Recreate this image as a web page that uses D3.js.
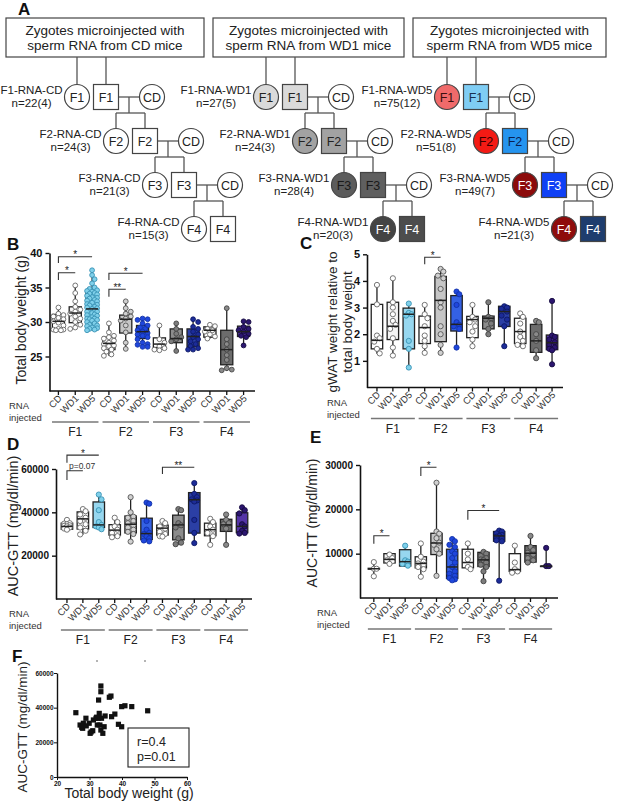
<!DOCTYPE html>
<html>
<head>
<meta charset="utf-8">
<script src="https://cdn.jsdelivr.net/npm/d3@7"></script>
<style>
body { margin: 0; background: #fff; }
text { font-family: "Liberation Sans", Arial, sans-serif; }
</style>
</head>
<body>
<svg width="617" height="806"></svg>
<script>
// ---------- data ----------
const diets = ['CD', 'WD1', 'WD5'];
const gens = ['F1', 'F2', 'F3', 'F4'];
const catLabels = gens.flatMap(() => diets);
const nCounts = [
    ['22(4)', '24(3)', '21(3)', '15(3)'],
    ['27(5)', '24(3)', '28(4)', '20(3)'],
    ['75(12)', '51(8)', '49(7)', '21(3)']
];

// box stats: [min, q1, median, q3, max] for F1 CD, F1 WD1, F1 WD5, F2 CD ...
const bodyWeightBox = [
    [28.8, 28.9, 30.1, 31.1, 32.1], [29.0, 29.9, 31.3, 32.2, 35.4], [28.8, 30.3, 31.9, 34.6, 37.5],
    [25.1, 26.0, 26.9, 27.8, 29.8], [26.0, 28.4, 30.4, 31.0, 33.1], [26.3, 27.6, 28.6, 29.5, 30.6],
    [25.8, 26.3, 26.8, 27.7, 29.6], [25.7, 27.0, 27.6, 29.0, 29.8], [25.9, 26.4, 27.9, 29.0, 30.5],
    [27.6, 27.8, 28.8, 29.3, 29.7], [22.9, 23.8, 26.0, 28.8, 32.0], [26.5, 27.9, 28.6, 29.4, 30.1]
];
const bodyWeightPts = [
    [32.1, 31.2, 31.0, 30.6, 30.4, 30.1, 29.9, 29.5, 29.0, 28.9, 28.9, 28.8, 28.8, 30.8],
    [35.3, 34.2, 33.0, 32.2, 31.8, 31.5, 31.2, 30.8, 30.5, 30.0, 29.6, 29.2, 29.0],
    [37.5, 36.8, 36.2, 35.6, 35.0, 34.8, 34.6, 34.4, 34.2, 34.0, 33.8, 33.6, 33.4, 33.2, 33.0, 32.8, 32.6,
     32.4, 32.2, 32.0, 31.9, 31.7, 31.5, 31.3, 31.1, 30.9, 30.7, 30.5, 30.3, 30.2, 30.0, 29.8, 29.6, 29.4,
     29.2, 29.0, 28.9, 28.8, 34.5, 33.5, 32.5, 31.5, 30.5, 29.5, 31.0, 32.1, 33.1, 34.1, 30.4, 29.1],
    [29.8, 28.5, 28.0, 27.6, 27.3, 27.0, 26.8, 26.5, 26.2, 26.0, 25.7, 25.3, 25.1, 27.8, 26.6],
    [33.0, 32.0, 31.2, 30.8, 30.5, 30.2, 29.5, 28.5, 27.0, 26.1, 31.5],
    [30.5, 30.3, 29.8, 29.5, 29.2, 29.0, 28.8, 28.6, 28.4, 28.0, 27.8, 27.5, 27.0, 26.7, 26.4, 26.4, 26.8, 30.4, 28.2],
    [29.5, 27.5, 27.0, 26.5, 26.2, 26.0, 25.9],
    [29.8, 29.0, 28.3, 27.8, 27.5, 27.2, 25.8],
    [30.4, 30.0, 29.3, 29.0, 28.6, 28.2, 27.8, 27.5, 27.2, 26.8, 26.5, 26.2, 26.0, 26.0],
    [29.6, 29.4, 29.0, 28.6, 28.2, 27.9, 27.6, 28.8],
    [32.0, 27.5, 26.8, 26.0, 25.2, 24.5, 23.3, 23.0, 23.1],
    [30.1, 30.0, 29.3, 29.0, 28.8, 28.6, 28.3, 28.0, 27.8, 26.6]
];

const gwatBox = [
    [1.27, 1.45, 1.77, 3.12, 3.85], [1.2, 1.8, 2.3, 3.2, 4.1], [0.73, 1.45, 2.75, 2.98, 3.17],
    [1.3, 1.65, 2.25, 2.68, 3.13], [1.27, 1.72, 3.27, 4.17, 4.47], [1.5, 2.12, 2.37, 3.45, 3.6],
    [1.53, 1.87, 2.55, 2.67, 3.12], [1.98, 2.2, 2.6, 2.68, 3.2], [1.52, 2.29, 2.85, 3.05, 3.08],
    [1.52, 1.65, 2.1, 2.6, 2.8], [1.08, 1.32, 1.75, 2.37, 2.52], [0.87, 1.42, 1.68, 1.97, 3.25]
];
const gwatPts = [
    [3.85, 3.12, 1.95, 1.85, 1.72, 1.45, 1.28],
    [4.1, 3.2, 3.0, 2.75, 2.5, 2.35, 2.2, 1.85, 1.5, 1.2],
    [3.15, 2.8, 2.75, 2.7, 1.75, 1.45, 0.75],
    [3.1, 2.75, 2.6, 2.3, 1.95, 1.75, 1.55, 1.3],
    [4.45, 4.35, 4.2, 4.1, 3.7, 3.2, 3.0, 2.3, 2.0, 1.6, 1.3],
    [3.6, 3.5, 3.1, 2.45, 2.35, 2.3, 2.2, 1.5],
    [3.1, 2.65, 2.55, 2.45, 2.3, 2.1, 1.8, 1.55],
    [3.2, 2.65, 2.6, 2.55, 2.4, 2.2, 2.0],
    [3.05, 3.0, 2.95, 2.85, 2.7, 2.55, 2.3, 1.55],
    [2.78, 2.65, 2.4, 2.1, 1.9, 1.75, 1.6, 1.55],
    [2.5, 2.45, 2.0, 1.75, 1.4, 1.1],
    [3.25, 1.95, 1.9, 1.8, 1.7, 1.6, 1.5, 1.45, 1.4, 0.87]
];

const gttBox = [
    [31800, 32200, 33500, 35000, 36800], [29600, 32300, 37000, 40200, 41700], [32000, 33000, 34200, 44800, 48300],
    [28500, 29500, 31800, 34300, 37500], [26500, 30500, 34500, 38300, 47000], [26600, 27400, 30200, 37300, 44800],
    [28600, 29500, 32700, 34100, 36300], [25000, 27300, 34200, 38700, 41800], [25800, 30400, 45800, 49100, 53600],
    [24900, 29200, 32000, 35000, 37400], [25000, 31200, 34200, 36800, 39200], [30200, 30600, 33500, 39800, 42300]
];
const gttPts = [
    [36500, 35000, 34500, 34000, 33500, 33000, 32500, 32000, 33800, 34800],
    [41500, 40500, 39000, 37500, 36000, 34500, 33000, 31500, 29800],
    [48200, 46000, 41000, 35500, 34200, 33500, 33000, 32200],
    [37500, 35500, 33500, 32000, 30500, 29000, 28500],
    [47000, 40000, 38000, 37500, 36000, 35000, 34000, 33000, 32000, 31000, 30000, 26500],
    [44500, 44000, 36000, 32000, 30500, 30000, 29000, 28000, 27000, 26600],
    [36000, 35000, 33500, 32500, 31000, 30000, 29000, 28800],
    [41500, 41000, 35000, 34000, 33000, 28000, 26000, 25300],
    [53500, 48500, 47000, 46000, 45500, 45000, 36500, 30500, 25800],
    [37000, 35500, 33500, 32000, 30500, 29000, 25000],
    [39000, 36500, 35000, 34500, 32500, 25000],
    [42300, 41000, 39500, 34500, 33500, 31500, 30500, 30200]
];

const ittBox = [
    [4900, 6500, 6600, 6700, 8100], [7600, 7900, 8700, 10000, 10300], [7200, 7200, 8200, 10900, 11900],
    [4800, 6800, 7800, 9300, 12300], [5000, 9800, 12400, 14600, 26000], [4000, 4400, 7000, 11000, 13300],
    [6500, 6800, 8000, 11000, 12300], [3800, 7100, 8600, 10300, 10500], [3900, 12800, 14000, 15000, 15300],
    [5700, 6000, 6400, 10000, 11900], [7900, 8100, 10100, 11800, 14100], [7100, 7200, 7200, 7200, 11300]
];
const ittPts = [
    [8100, 6600, 6600, 4900],
    [9800, 9000, 8500, 8300, 7700],
    [11800, 8500, 8200, 7700, 7300],
    [12300, 9300, 8200, 7800, 7500, 7000, 6500, 4800],
    [26000, 15000, 14500, 13500, 12500, 12000, 11000, 10000, 5000],
    [13300, 12800, 12000, 11500, 10500, 10000, 9000, 8000, 7000, 6000, 5500, 5000, 4500, 4200, 4000],
    [12300, 10000, 8700, 7000, 6500],
    [10400, 10000, 9500, 9000, 8700, 8500, 8000, 7500, 7000, 6000, 3800],
    [15200, 15000, 14600, 14200, 14000, 13800, 13500, 13000, 12800, 3900],
    [11800, 8000, 6500, 6000, 5700],
    [14000, 11500, 10800, 10200, 9800, 9000, 8500, 8000],
    [11300, 7200, 7200]
];

// significance brackets: [from category, to category, line value, leg end value, label]
const bodyWeightSig = [[0, 2, 39.46, 38.55, '*'], [0, 1, 37.14, 36.09, '*'], [3, 5, 37.06, 36.09, '*'], [3, 4, 34.74, 33.67, '**']];
const gwatSig = [[3, 4, 4.89, 4.63, '*']];
const gttSig = [[0, 2, 66400, 62900, '*'], [0, 1, 59200, 54900, 'p=0.07'], [6, 8, 60800, 57700, '**']];
const ittSig = [[0, 1, 14050, 12250, '*'], [3, 4, 29480, 27530, '*'], [6, 8, 19730, 17640, '*']];

// panel F scatter
const scatterWeight = [25.8, 27.1, 27.6, 28.1, 28.9, 27.9, 29.9, 30.2, 31.0, 31.2, 32.0, 32.4, 32.7, 33.0, 32.8, 33.5,
    33.5, 33.2, 33.7, 33.5, 34.1, 34.5, 34.8, 36.1, 36.6, 36.8, 37.8, 38.9, 39.9, 39.9, 40.9, 43.0, 47.9, 30.5, 32.2, 29.0];
const scatterGtt = [37100, 30000, 28700, 31000, 33900, 28100, 31000, 25200, 26700, 32900, 33900, 30000, 33900, 36700, 44400, 52500,
    49200, 30000, 33900, 27100, 25200, 29000, 35200, 46000, 46700, 34800, 36300, 30400, 29000, 40600, 41100, 40600, 38200, 26000, 34500, 29500];

// ---------- styles ----------
const boxFill = ['#ffffff', '#f4f4f4', '#97d7ef', '#ffffff', '#c6c6c6', '#3461e4', '#ffffff', '#8c8c8c', '#2b3fa5', '#ffffff', '#6c6c6c', '#5434a6'];
const ptFill = ['#ffffff', '#ffffff', '#7fd0ea', '#ffffff', '#d0d0d0', '#1f46dc', '#ffffff', '#7c7c7c', '#1c2c98', '#ffffff', '#8a8a8a', '#2c1670'];
const ptStroke = ['#666', '#666', '#3a93b6', '#666', '#555', '#1232a8', '#666', '#444', '#0d1866', '#666', '#444', '#150a40'];

const svg = d3.select('svg');
svg.append('rect').attr('width', 617).attr('height', 806).attr('fill', '#fff');

function panelLetter(t, x, y) {
    svg.append('text').attr('x', x).attr('y', y).text(t)
        .attr('font-size', 17).attr('font-weight', 'bold').attr('fill', '#111');
}

// ---------- panel A: pedigree ----------
const groupX = [0, 189, 370];
const topBoxes = [{x: 6, w: 198}, {x: 213, w: 191}, {x: 413, w: 193}];
const circleFill = [
    ['#fff', '#fff', '#fff', '#fff'],
    ['#dadada', '#a2a2a2', '#5c5c5c', '#444'],
    ['#f06a6a', '#f41a14', '#8c0b0b', '#8e0c0c']
];
const squareFill = [
    ['#fff', '#fff', '#fff', '#fff'],
    ['#dadada', '#a2a2a2', '#5f5f5f', '#4d4d4d'],
    ['#7fcdf4', '#2594ef', '#0f40f5', '#1e3d6e']
];
const circleText = [
    ['#222', '#222', '#222', '#222'],
    ['#222', '#222', '#1a1a1a', '#fff'],
    ['#3a1010', '#3a0000', '#fff', '#fff']
];
const squareText = [
    ['#222', '#222', '#222', '#222'],
    ['#222', '#222', '#1a1a1a', '#fff'],
    ['#1a3050', '#0a2050', '#fff', '#fff']
];

panelLetter('A', 18, 15);
const ped = svg.append('g');
const lineCol = '#555';
const R = 12.5;

function pline(x1, y1, x2, y2) {
    ped.append('line').attr('x1', x1).attr('y1', y1).attr('x2', x2).attr('y2', y2)
        .attr('stroke', lineCol).attr('stroke-width', 1.3);
}

diets.forEach((diet, g) => {
    const b = topBoxes[g];
    ped.append('rect').attr('x', b.x).attr('y', 18).attr('width', b.w).attr('height', 39)
        .attr('fill', '#fff').attr('stroke', '#444').attr('stroke-width', 1.2);
    ['Zygotes microinjected with', `sperm RNA from ${diet} mice`].forEach((t, k) => {
        ped.append('text').attr('x', b.x + b.w / 2).attr('y', 35 + k * 14.5).text(t)
            .attr('text-anchor', 'middle').attr('font-size', 13.5).attr('fill', '#222');
    });

    const ox = groupX[g];
    gens.forEach((gen, r) => {
        const cy = 97 + 44 * r;
        const ccx = 77 + 39 * r + ox;
        const scx = ccx + 29;
        if (r === 0) {
            pline(ccx, 57, ccx, cy - R);
            pline(scx, 57, scx, cy - R);
        }
        if (r < 3) {
            const cdx = scx + 46;
            pline(scx + R, cy, cdx - R, cy);
            const dx = (scx + R + cdx - R) / 2;
            const ny = cy + 44;
            const nc = 77 + 39 * (r + 1) + ox;
            pline(dx, cy, dx, cy + 16);
            pline(nc, cy + 16, nc + 29, cy + 16);
            pline(nc, cy + 16, nc, ny - R);
            pline(nc + 29, cy + 16, nc + 29, ny - R);
            ped.append('circle').attr('cx', cdx).attr('cy', cy).attr('r', R)
                .attr('fill', '#fff').attr('stroke', '#444').attr('stroke-width', 1.2);
            ped.append('text').attr('x', cdx).attr('y', cy + 4.5).text('CD')
                .attr('text-anchor', 'middle').attr('font-size', 12.5).attr('fill', '#222');
        }
        ped.append('circle').attr('cx', ccx).attr('cy', cy).attr('r', R)
            .attr('fill', circleFill[g][r]).attr('stroke', '#444').attr('stroke-width', 1.2);
        ped.append('text').attr('x', ccx).attr('y', cy + 4.5).text(gen)
            .attr('text-anchor', 'middle').attr('font-size', 12.5).attr('fill', circleText[g][r]);
        ped.append('rect').attr('x', scx - R).attr('y', cy - R).attr('width', 2 * R).attr('height', 2 * R)
            .attr('fill', squareFill[g][r]).attr('stroke', '#444').attr('stroke-width', 1.2);
        ped.append('text').attr('x', scx).attr('y', cy + 4.5).text(gen)
            .attr('text-anchor', 'middle').attr('font-size', 12.5).attr('fill', squareText[g][r]);

        // labels
        const endX = ccx - R - 2;
        const t1 = ped.append('text').attr('x', endX).attr('y', cy - 3).text(`${gen}-RNA-${diet}`)
            .attr('text-anchor', 'end').attr('font-size', 11.5).attr('fill', '#222');
        const w = t1.node().getComputedTextLength();
        ped.append('text').attr('x', endX - w / 2).attr('y', cy + 9.5).text(`n=${nCounts[g][r]}`)
            .attr('text-anchor', 'middle').attr('font-size', 11.5).attr('fill', '#222');
    });
});

// ---------- box plot panels ----------
function swarm(values, cx, y, r, half) {
    const placed = [];
    const pts = values.map(v => ({v: v, y: y(v)})).sort((a, b) => a.y - b.y);
    const offs = [0];
    for (let k = 1; k * r * 1.05 <= half; k++) offs.push(k * r * 1.05, -k * r * 1.05);
    pts.forEach(p => {
        let best = 0, bestD = -1;
        for (const o of offs) {
            let dmin = Infinity;
            placed.forEach(q => { dmin = Math.min(dmin, Math.hypot(q.x - (cx + o), q.y - p.y)); });
            if (dmin >= 2 * r * 0.95) { best = o; bestD = Infinity; break; }
            if (dmin > bestD) { bestD = dmin; best = o; }
        }
        p.x = cx + best;
        placed.push(p);
    });
    return placed;
}

function drawBoxPanel(cfg) {
    const x = d3.scaleBand().domain(d3.range(12)).range(cfg.band);
    const bw = x.bandwidth();
    const cx = i => x(i) + bw / 2;
    const y = d3.scaleLinear().domain(cfg.yDomain).range(cfg.yRange);
    const g = svg.append('g');
    const y0 = cfg.yRange[0];

    // brackets
    cfg.sig.forEach(s => {
        const x1 = cx(s[0]), x2 = cx(s[1]);
        g.append('path').attr('d', `M${x1},${y(s[3])}V${y(s[2])}H${x2}`)
            .attr('fill', 'none').attr('stroke', '#333').attr('stroke-width', 1.1);
        if (s[4].startsWith('p')) {
            g.append('text').attr('x', x1 + 2).attr('y', y(s[2]) - 1.5).text(s[4])
                .attr('font-size', 8.5).attr('fill', '#333');
        } else {
            g.append('text').attr('x', (x1 + x2) / 2).attr('y', y(s[2]) + 1.5).text(s[4])
                .attr('text-anchor', 'middle').attr('font-size', 10).attr('fill', '#222');
        }
    });

    // boxes
    const bwid = bw * 0.72;
    cfg.box.forEach((b, i) => {
        const c = cx(i);
        g.append('line').attr('x1', c).attr('x2', c).attr('y1', y(b[0])).attr('y2', y(b[4]))
            .attr('stroke', '#222').attr('stroke-width', 1.3);
        g.append('rect').attr('x', c - bwid / 2).attr('width', bwid)
            .attr('y', y(b[3])).attr('height', Math.max(0.5, y(b[1]) - y(b[3])))
            .attr('fill', boxFill[i]).attr('stroke', '#222').attr('stroke-width', 1.3);
        const pts = swarm(cfg.pts[i], c, y, cfg.r, bwid / 2 - 1);
        g.selectAll(null).data(pts).enter().append('circle')
            .attr('cx', d => d.x).attr('cy', d => d.y).attr('r', cfg.r)
            .attr('fill', ptFill[i]).attr('stroke', ptStroke[i]).attr('stroke-width', 0.9);
        g.append('line').attr('x1', c - bwid / 2).attr('x2', c + bwid / 2)
            .attr('y1', y(b[2])).attr('y2', y(b[2]))
            .attr('stroke', '#222').attr('stroke-width', 1.5);
    });

    // y axis
    g.append('g').attr('transform', `translate(${cfg.axisX},0)`)
        .call(d3.axisLeft(y).tickValues(cfg.ticks).tickSize(4).tickSizeOuter(0).tickFormat(d3.format('d')))
        .call(a => {
            a.select('.domain').attr('stroke', '#111').attr('stroke-width', 1.6);
            a.selectAll('.tick line').attr('stroke', '#111').attr('stroke-width', 1.4);
            a.selectAll('text').attr('font-weight', 'bold').attr('font-size', cfg.tickFont)
                .attr('fill', '#111').attr('font-family', null);
        });

    // x axis
    g.append('line').attr('x1', cfg.axisX).attr('x2', cfg.xEnd).attr('y1', y0).attr('y2', y0)
        .attr('stroke', '#111').attr('stroke-width', 1.6);
    catLabels.forEach((lab, i) => {
        g.append('line').attr('x1', cx(i)).attr('x2', cx(i)).attr('y1', y0).attr('y2', y0 + 4)
            .attr('stroke', '#111').attr('stroke-width', 1.3);
        g.append('text').text(lab)
            .attr('transform', `translate(${cx(i) + 4},${y0 + 8}) rotate(-45)`)
            .attr('text-anchor', 'end').attr('font-size', 9.5).attr('fill', '#333');
    });
    g.append('text').attr('x', cfg.rnaX).attr('y', y0 + 18).text('RNA')
        .attr('font-size', 9.5).attr('fill', '#333');
    g.append('text').attr('x', cfg.rnaX).attr('y', y0 + 30).text('injected')
        .attr('font-size', 9.5).attr('fill', '#333');
    gens.forEach((gen, k) => {
        g.append('line').attr('x1', cx(3 * k) - 0.38 * bw).attr('x2', cx(3 * k + 2) + 0.38 * bw)
            .attr('y1', y0 + 31).attr('y2', y0 + 31).attr('stroke', '#777').attr('stroke-width', 1.5);
        g.append('text').attr('x', cx(3 * k + 1)).attr('y', y0 + 45).text(gen)
            .attr('text-anchor', 'middle').attr('font-size', 12).attr('fill', '#222');
    });

    // y label
    cfg.ylabel.forEach((t, k) => {
        g.append('text').text(t)
            .attr('transform', `translate(${cfg.ylabelX + k * 15},${cfg.ylabelY}) rotate(-90)`)
            .attr('text-anchor', 'middle').attr('font-size', cfg.ylabelFont).attr('fill', '#222');
    });
}

panelLetter('B', 7, 250);
drawBoxPanel({
    band: [50, 252], axisX: 49.5, xEnd: 255,
    yDomain: [20, 40], yRange: [391, 253], ticks: [25, 30, 35, 40], tickFont: 11,
    box: bodyWeightBox, pts: bodyWeightPts, sig: bodyWeightSig, r: 2.4,
    rnaX: 9, ylabel: ['Total body weight (g)'], ylabelX: 26, ylabelY: 320, ylabelFont: 14
});

panelLetter('C', 300, 249);
drawBoxPanel({
    band: [369, 560], axisX: 367, xEnd: 563,
    yDomain: [0, 5], yRange: [387.5, 254.3], ticks: [1, 2, 3, 4, 5], tickFont: 11,
    box: gwatBox, pts: gwatPts, sig: gwatSig, r: 2.6,
    rnaX: 327, ylabel: ['gWAT weight relative to', 'total body weight'], ylabelX: 337, ylabelY: 322, ylabelFont: 13.5
});

panelLetter('D', 7, 450);
drawBoxPanel({
    band: [59, 250], axisX: 56, xEnd: 252,
    yDomain: [0, 60000], yRange: [599, 469], ticks: [20000, 40000, 60000], tickFont: 10,
    box: gttBox, pts: gttPts, sig: gttSig, r: 2.6,
    rnaX: 9, ylabel: ['AUC-GTT (mg/dl/min)'], ylabelX: 18, ylabelY: 526, ylabelFont: 14.5
});

panelLetter('E', 310, 443);
drawBoxPanel({
    band: [366, 554], axisX: 360, xEnd: 558,
    yDomain: [0, 30000], yRange: [598, 465], ticks: [10000, 20000, 30000], tickFont: 10,
    box: ittBox, pts: ittPts, sig: ittSig, r: 2.6,
    rnaX: 317, ylabel: ['AUC-ITT (mg/dl/min)'], ylabelX: 317, ylabelY: 523, ylabelFont: 14
});

// ---------- panel F: scatter ----------
panelLetter('F', 12, 662);
const fx = d3.scaleLinear().domain([20, 60]).range([57, 187]);
const fy = d3.scaleLinear().domain([0, 60000]).range([777, 673]);
const fg = svg.append('g');

fg.append('g').attr('transform', 'translate(57,0)')
    .call(d3.axisLeft(fy).tickValues([0, 20000, 40000, 60000]).tickSize(3).tickSizeOuter(0).tickFormat(d3.format('d')))
    .call(a => {
        a.select('.domain').attr('stroke', '#111').attr('stroke-width', 1.4);
        a.selectAll('.tick line').attr('stroke', '#111');
        a.selectAll('text').attr('font-weight', 'bold').attr('font-size', 6.5).attr('fill', '#111')
            .attr('font-family', null).attr('x', -3.5);
    });
fg.append('g').attr('transform', 'translate(0,777)')
    .call(d3.axisBottom(fx).tickValues([20, 30, 40, 50, 60]).tickSize(3).tickSizeOuter(0))
    .call(a => {
        a.select('.domain').attr('stroke', '#111').attr('stroke-width', 1.4);
        a.selectAll('.tick line').attr('stroke', '#111');
        a.selectAll('text').attr('font-weight', 'bold').attr('font-size', 6.5).attr('fill', '#111')
            .attr('font-family', null).attr('y', 4);
    });

fg.selectAll('.sq').data(scatterWeight).enter().append('rect')
    .attr('x', (d, i) => fx(d) - 2.6).attr('y', (d, i) => fy(scatterGtt[i]) - 2.6)
    .attr('width', 5.2).attr('height', 5.2).attr('fill', '#111');

fg.append('rect').attr('x', 128).attr('y', 728).attr('width', 61).attr('height', 39)
    .attr('fill', '#fff').attr('stroke', '#222').attr('stroke-width', 1.1);
fg.append('text').attr('x', 137).attr('y', 746).text('r=0.4').attr('font-size', 12.5).attr('fill', '#222');
fg.append('text').attr('x', 137).attr('y', 761).text('p=0.01').attr('font-size', 12.5).attr('fill', '#222');

fg.append('text').text('AUC-GTT (mg/dl/min)')
    .attr('transform', 'translate(27,727) rotate(-90)')
    .attr('text-anchor', 'middle').attr('font-size', 13.5).attr('fill', '#222');
fg.append('text').attr('x', 129).attr('y', 798).text('Total body weight (g)')
    .attr('text-anchor', 'middle').attr('font-size', 14).attr('fill', '#222');

fg.append('circle').attr('cx', 97).attr('cy', 661).attr('r', 0.8).attr('fill', '#555');
fg.append('circle').attr('cx', 145).attr('cy', 661).attr('r', 0.8).attr('fill', '#555');
</script>
</body>
</html>
